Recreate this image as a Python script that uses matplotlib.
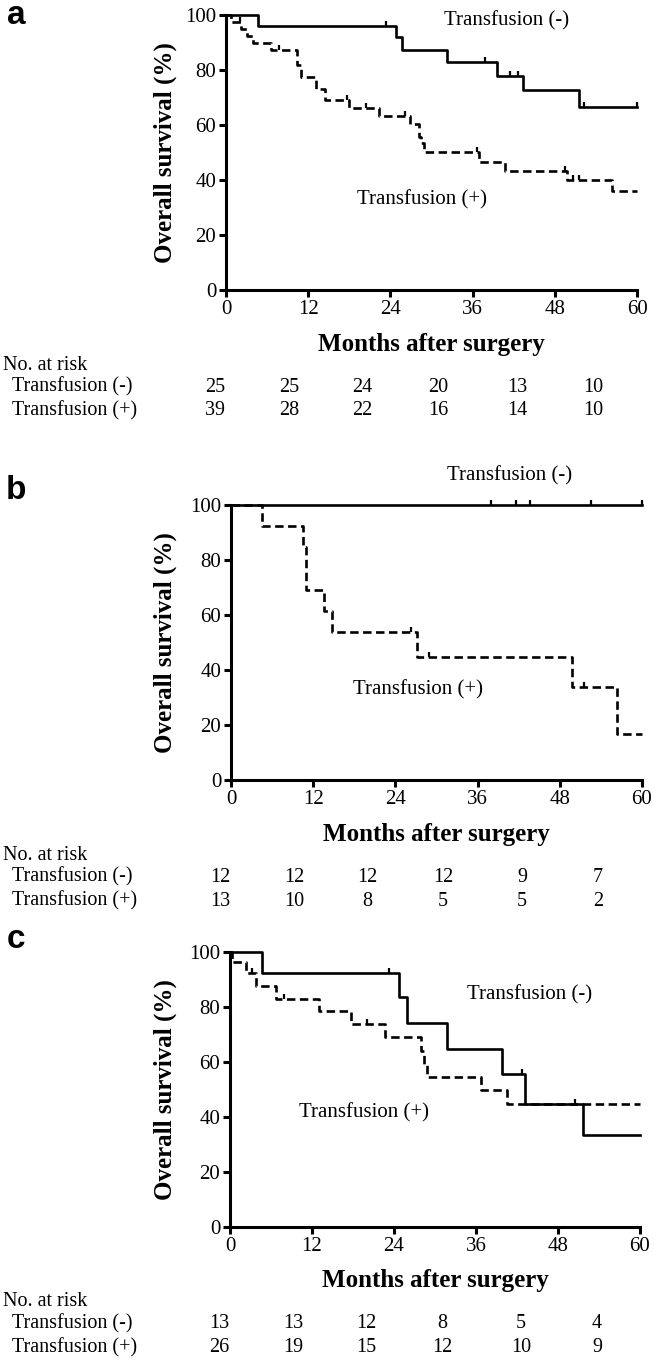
import matplotlib
matplotlib.use("Agg")
import matplotlib.pyplot as plt
from matplotlib.path import Path
import numpy as np

# ---------------- data ----------------
months_ticks = [0, 12, 24, 36, 48, 60]
surv_ticks = [0, 20, 40, 60, 80, 100]

# Panel a
a_neg_t = [0, 4.7, 24.8, 25.7, 32.2, 39.6, 43.3, 51.6, 60]
a_neg_s = [100, 96.0, 92.0, 87.4, 82.8, 77.9, 72.6, 66.6, 66.6]
a_neg_c = [23.4, 37.8, 41.5, 42.7, 52.3, 60]
a_pos_t = [0, 0.7, 2.2, 3.0, 4.0, 6.5, 10.4, 10.9, 13.1, 14.5, 18.0, 22.4,
           26.8, 28.2, 28.5, 28.9, 37.0, 40.7, 49.8, 56.3, 60]
a_pos_s = [100, 97.4, 94.9, 92.3, 89.7, 87.2, 81.8, 77.3, 73.0, 69.2, 66.3, 63.3,
           60.4, 55.5, 53.6, 50.2, 46.6, 43.2, 40.1, 35.9, 35.9]
a_pos_c = [2.0, 7.8, 17.6, 20.5, 26.1, 36.6, 49.5, 50.7, 51.5]
a_risk_neg = [25, 25, 24, 20, 13, 10]
a_risk_pos = [39, 28, 22, 16, 14, 10]

# Panel b
b_neg_t = [0, 60]
b_neg_s = [100, 100]
b_neg_c = [37.9, 41.6, 43.6, 52.5, 60]
b_pos_t = [0, 4.5, 10.5, 10.9, 13.6, 14.7, 27.1, 49.8, 56.3, 60]
b_pos_s = [100, 92.3, 84.6, 69.2, 61.5, 53.8, 44.9, 33.7, 16.8, 16.8]
b_pos_c = [26.3, 28.9, 51.5]
b_risk_neg = [12, 12, 12, 12, 9, 7]
b_risk_pos = [13, 10, 8, 5, 5, 2]

# Panel c
c_neg_t = [0, 4.7, 24.8, 25.9, 31.8, 39.8, 43.2, 51.6, 60]
c_neg_s = [100, 92.3, 83.5, 74.2, 64.8, 55.5, 44.9, 33.3, 33.3]
c_neg_c = [23.2, 42.8, 50.5]
c_pos_t = [0, 0.3, 2.3, 3.8, 6.8, 13.0, 17.7, 22.7, 28.0, 28.4, 28.8, 36.8, 40.6, 60]
c_pos_s = [100, 96.2, 92.3, 87.8, 83.0, 78.5, 73.9, 69.0, 64.0, 59.0, 54.6, 49.7, 44.6, 44.6]
c_pos_c = [3.2, 7.9, 20.1]
c_risk_neg = [13, 13, 12, 8, 5, 4]
c_risk_pos = [26, 19, 15, 12, 10, 9]

group_labels = ["Transfusion (-)", "Transfusion (+)"]

# ---------------- layout ----------------
W, H = 657, 1361
fig = plt.figure(figsize=(W / 100, H / 100), dpi=100)
SERIF = "Liberation Serif"
plt.rcParams["font.family"] = SERIF
TXT = 14.5

up_tick = Path([(0, 0), (0, 1)], [Path.MOVETO, Path.LINETO])

def surv_at(t, ts, ss):
    idx = np.searchsorted(ts, t, side="right") - 1
    return ss[max(idx, 0)]

panels = [
    dict(letter="a", box=(226, 15, 637, 290), neg=(a_neg_t, a_neg_s, a_neg_c),
         pos=(a_pos_t, a_pos_s, a_pos_c), risk=(a_risk_neg, a_risk_pos),
         lneg=(40.9, 98.0), lpos=(28.6, 32.7), lety=15),
    dict(letter="b", box=(231, 505, 642, 780), neg=(b_neg_t, b_neg_s, b_neg_c),
         pos=(b_pos_t, b_pos_s, b_pos_c), risk=(b_risk_neg, b_risk_pos),
         lneg=(40.7, 110.5), lpos=(27.3, 32.7), lety=490),
    dict(letter="c", box=(230, 952, 640, 1227), neg=(c_neg_t, c_neg_s, c_neg_c),
         pos=(c_pos_t, c_pos_s, c_pos_c), risk=(c_risk_neg, c_risk_pos),
         lneg=(43.9, 84.4), lpos=(19.6, 41.5), lety=940),
]

risk_x_px = [-11, 63, 136, 212, 291, 367]   # offsets from axis left, pixels

for p in panels:
    x0, y0, x1, y1 = p["box"]
    ax = fig.add_axes([x0 / W, 1 - y1 / H, (x1 - x0) / W, (y1 - y0) / H])
    ax.set_xlim(0, 60)
    ax.set_ylim(0, 100)
    for s in ["top", "right"]:
        ax.spines[s].set_visible(False)
    for s in ["left", "bottom"]:
        ax.spines[s].set_linewidth(2.2)
    ax.set_xticks(months_ticks)
    ax.set_yticks(surv_ticks)
    ax.tick_params(direction="out", length=5, width=2.2, labelsize=15, pad=2)
    for lab in ax.get_xticklabels() + ax.get_yticklabels():
        lab.set_fontfamily(SERIF)

    # curves
    t, s, c = p["neg"]
    ax.step(t, s, where="post", color="black", lw=1.9, clip_on=False, zorder=3)
    ax.plot(c, [surv_at(ci, t, s) for ci in c], linestyle="none", marker=up_tick,
            markersize=7, markeredgewidth=1.6, color="black", clip_on=False, zorder=3)
    t, s, c = p["pos"]
    ax.step(t, s, where="post", color="black", lw=1.9, dashes=(3.2, 1.7),
            clip_on=False, zorder=3)
    ax.plot(c, [surv_at(ci, t, s) for ci in c], linestyle="none", marker=up_tick,
            markersize=7, markeredgewidth=1.6, color="black", clip_on=False, zorder=3)

    ax.text(p["lneg"][0], p["lneg"][1], group_labels[0], ha="center", va="center",
            fontsize=TXT + 0.5, family=SERIF, clip_on=False)
    ax.text(p["lpos"][0], p["lpos"][1], group_labels[1], ha="center", va="center",
            fontsize=TXT + 0.5, family=SERIF, clip_on=False)

    # y label
    fig.text(165 / W, 1 - (y0 + y1) / 2 / H, "Overall survival (%)", rotation=90,
             ha="center", va="center", fontsize=18, fontweight="bold", family=SERIF)
    # x label
    fig.text((x0 + x1) / 2 / W, 1 - (y1 + 54) / H, "Months after surgery",
             ha="center", va="center", fontsize=18, fontweight="bold", family=SERIF)
    # at-risk table
    fig.text(3 / W, 1 - (y1 + 75) / H, "No. at risk", ha="left", va="center",
             fontsize=TXT, family=SERIF)
    for r, (lab, vals) in enumerate(zip(group_labels, p["risk"])):
        yy = 1 - (y1 + 97 + 24 * r) / H
        fig.text(12 / W, yy, lab, ha="left", va="center", fontsize=TXT, family=SERIF)
        for off, v in zip(risk_x_px, vals):
            fig.text((x0 + off) / W, yy, str(v), ha="center", va="center",
                     fontsize=TXT, family=SERIF)
    # panel letter
    fig.text(16 / W, 1 - p["lety"] / H, p["letter"], ha="center", va="center",
             fontsize=24, fontweight="bold", family="Liberation Sans")

fig.savefig("out.png", dpi=100)
